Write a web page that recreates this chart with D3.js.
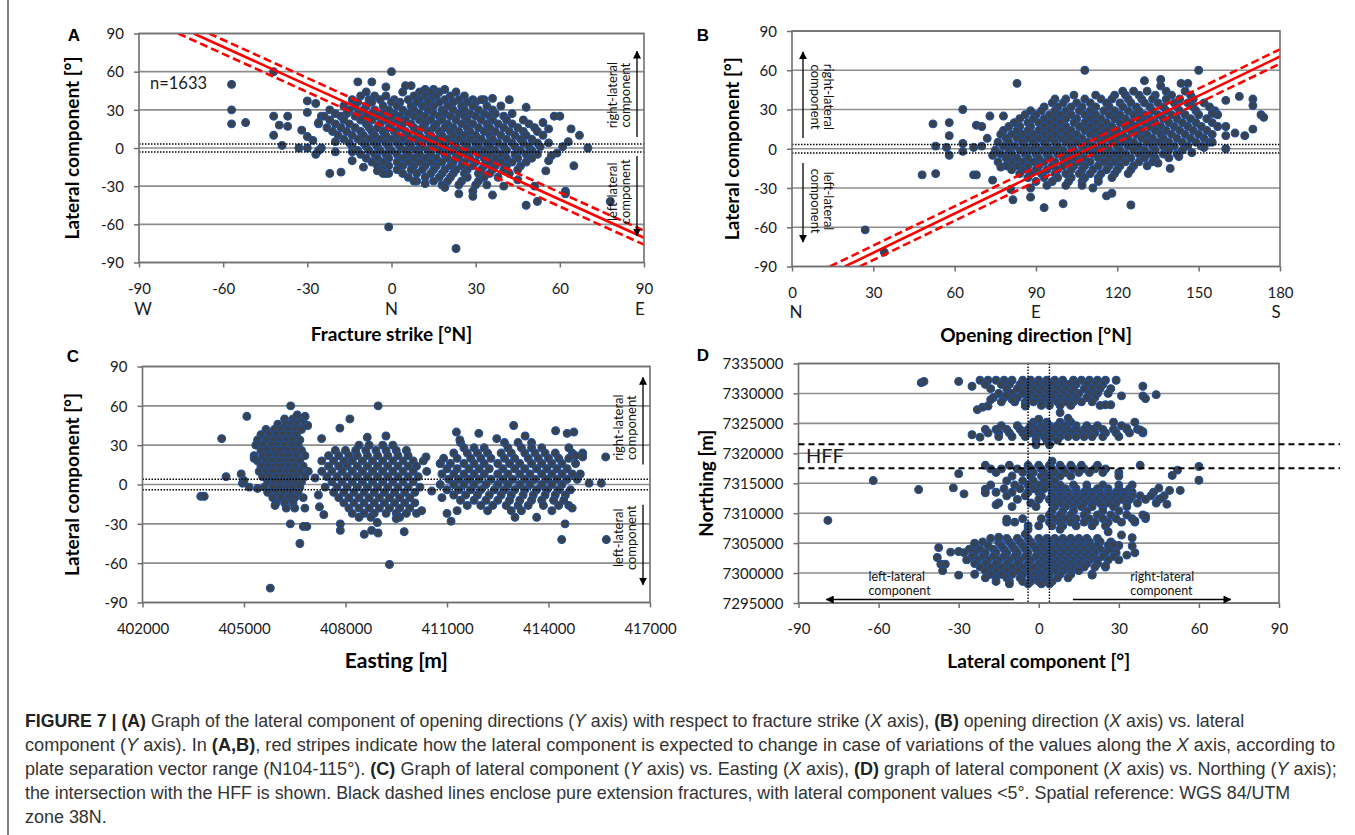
<!DOCTYPE html>
<html><head><meta charset="utf-8">
<script src="https://cdn.jsdelivr.net/npm/d3@7"></script>
<style>body{margin:0;background:#fff}svg{display:block}</style>
</head><body>
<svg id="fig" width="1355" height="835"></svg>
<script>
// ---------------- DATA ----------------
const latTicks = [-90, -60, -30, 0, 30, 60, 90];
const strikeTicks = [-90, -60, -30, 0, 30, 60, 90];
const strikeDirs = [[-90, "W"], [0, "N"], [90, "E"]];
const openTicks = [0, 30, 60, 90, 120, 150, 180];
const openDirs = [[0, "N"], [90, "E"], [180, "S"]];
const eastTicks = [402000, 405000, 408000, 411000, 414000, 417000];
const northTicks = [7295000, 7300000, 7305000, 7310000, 7315000, 7320000, 7325000, 7330000, 7335000];
const nCount = "n=1633";

// red stripes (plate separation N104-115°, centre 109.5°)
const redA = { solid: [[-70.5, 90], [90, -70.5]], dashed: [[[-76, 90], [90, -76]], [[-65, 90], [90, -65]]] };
const redB = { solid: [[19.5, -90], [180, 70.5]], dashed: [[[14, -90], [180, 76]], [[25, -90], [180, 65]]] };
const pureExtAB = 3.2, pureExtCD = 4;
const hffBounds = [7321500, 7317500];

// Panel A: rows [lateral, [strikes]] + outliers [strike, lateral]
const rowsA = [
 [46, [12, 15, 19]],
 [44, [-9, 4, 10, 14, 17, 23]],
 [41, [-11, -6, -2, 8, 12, 16, 21, 26]],
 [38, [-14, -8, -4, 1, 6, 10, 14, 19, 24, 29, 33]],
 [36, [-12, -7, 0, 3, 9, 13, 17, 22, 27, 30]],
 [33, [-17, -13, -9, -3, 2, 7, 11, 15, 20, 25, 29, 34, 39]],
 [30, [-22, -15, -10, -6, -1, 4, 8, 13, 18, 22, 26, 31, 36]],
 [27, [-20, -16, -12, -7, -3, 1, 6, 10, 15, 19, 24, 28, 33, 37, 43]],
 [25, [-25, -18, -13, -9, -5, 0, 3, 8, 12, 17, 21, 26, 30, 35, 40]],
 [22, [-22, -17, -11, -7, -2, 2, 5, 10, 14, 18, 23, 27, 32, 36, 41, 47]],
 [19, [-26, -20, -15, -9, -4, 0, 4, 7, 12, 16, 20, 25, 29, 34, 38, 43, 49]],
 [16, [-23, -18, -13, -8, -5, -1, 3, 8, 11, 15, 19, 22, 27, 31, 35, 40, 45, 51]],
 [13, [-21, -16, -11, -7, -3, 1, 5, 9, 13, 17, 21, 24, 28, 33, 37, 42, 47, 52]],
 [10, [-19, -14, -10, -6, -2, 2, 6, 10, 14, 18, 22, 26, 30, 35, 39, 44, 48, 54]],
 [7, [-17, -12, -8, -4, 0, 4, 8, 12, 16, 20, 24, 28, 32, 36, 41, 46, 50]],
 [4, [-15, -10, -6, -2, 2, 6, 10, 14, 18, 22, 26, 30, 34, 38, 43, 47, 52, 56]],
 [1, [-14, -9, -5, -1, 3, 7, 11, 15, 19, 23, 27, 31, 35, 40, 44, 49, 53]],
 [-2, [-12, -8, -4, 0, 5, 9, 13, 17, 21, 25, 29, 33, 37, 41, 46, 50]],
 [-5, [-11, -6, -2, 2, 6, 10, 14, 19, 23, 27, 31, 35, 39, 44, 48, 52]],
 [-8, [-9, -5, -1, 4, 8, 12, 16, 20, 24, 28, 33, 37, 41, 45, 50]],
 [-11, [-7, -3, 2, 6, 10, 14, 18, 22, 26, 30, 35, 39, 43, 48]],
 [-14, [-5, -1, 4, 8, 12, 16, 21, 25, 29, 33, 37, 41, 46]],
 [-17, [-3, 2, 7, 11, 15, 19, 23, 27, 32, 36, 40, 45]],
 [-20, [-2, 4, 9, 14, 18, 22, 26, 31, 35, 42]],
 [-23, [6, 12, 17, 21, 27, 33, 38]],
 [-26, [9, 15, 20, 25, 31]],
 [-29, [18, 24, 30, 34]]
];
const outA = [[-57,50],[-57,30],[-57,19],[-52,20],[-42,60],[-42,25],[-42,10],[-40,18],[-39,2],[-37,25],[-37,17],[-33,0],[-32,14],[-30,37],[-30,28],[-30,9],[-30,0],[-27,35],[-27,-5],[-25,0],[-24,25],[-22,-20],[-18,-19],[-12,52],[-7,52],[-2,48],[0,60],[5,49],[7,49],[-1,-62],[23,-79],[70,0],[67,10],[64,15],[60,25],[58,25],[65,-14],[62,-34],[62,-36],[48,-45],[52,-42],[48,32],[42,38],[36,39],[32,38],[59,-4],[61,1],[55,-18],[56,-10],[78,-42],[24,-36],[29,-34],[29,-38],[36,-37],[19,-31],[8,-26],[-1,-20],[-3,-20],[-14,-3],[-20,5],[-20,-3],[-28,6],[-26,20],[-26,-2],[-14,-10],[-10,-15],[45,-25],[51,-30],[57,-6],[63,5],[54,20],[56,15],[-5,-18],[12,-28],[40,-30]];

// Panel B: rows [lateral, [opening dirs]] + outliers [opening, lateral]
const rowsB = [
 [44, [122, 126, 131, 138, 145]],
 [41, [104, 112, 119, 123, 128, 134, 140, 147]],
 [38, [97, 101, 108, 114, 118, 124, 129, 133, 138, 143, 148]],
 [35, [96, 100, 105, 110, 116, 121, 125, 130, 135, 141, 146, 152]],
 [32, [93, 98, 103, 107, 112, 117, 122, 127, 132, 137, 142, 148, 154]],
 [29, [88, 92, 97, 101, 106, 110, 115, 119, 124, 128, 133, 138, 143, 149, 156]],
 [26, [86, 90, 95, 99, 103, 108, 112, 117, 121, 126, 130, 135, 140, 145, 150, 157]],
 [23, [84, 89, 93, 97, 101, 105, 110, 114, 119, 123, 128, 132, 137, 142, 147, 153]],
 [20, [82, 87, 91, 95, 99, 104, 108, 112, 116, 121, 125, 130, 134, 139, 144, 149, 155]],
 [17, [80, 84, 88, 93, 97, 101, 106, 110, 114, 118, 123, 127, 132, 136, 141, 146, 151, 157]],
 [14, [78, 83, 87, 91, 95, 99, 103, 108, 112, 116, 120, 125, 129, 134, 138, 143, 148, 153]],
 [11, [77, 81, 85, 89, 93, 97, 101, 105, 110, 114, 118, 122, 127, 131, 136, 140, 145, 150, 155]],
 [8, [79, 83, 87, 91, 95, 99, 103, 107, 112, 116, 120, 124, 129, 133, 137, 142, 147, 152]],
 [5, [76, 80, 85, 89, 93, 97, 101, 105, 109, 114, 118, 122, 126, 131, 135, 139, 144, 149, 154]],
 [2, [78, 82, 86, 90, 94, 98, 103, 107, 111, 115, 120, 124, 128, 133, 137, 141, 146, 151]],
 [-1, [75, 80, 84, 88, 92, 96, 100, 104, 109, 113, 117, 121, 126, 130, 134, 139, 144]],
 [-4, [77, 81, 86, 90, 94, 98, 102, 106, 111, 115, 119, 123, 128, 132, 137, 142]],
 [-7, [79, 83, 87, 91, 95, 100, 104, 108, 113, 117, 121, 125, 130, 134, 139]],
 [-10, [76, 81, 85, 89, 93, 97, 102, 106, 110, 115, 119, 123, 128, 133]],
 [-13, [79, 83, 87, 91, 96, 100, 104, 108, 113, 117, 121, 126, 131]],
 [-16, [81, 85, 90, 94, 98, 103, 107, 111, 116, 120, 125]],
 [-19, [84, 88, 92, 97, 101, 106, 110, 114, 119, 124]],
 [-22, [87, 93, 98, 103, 108, 113, 118]],
 [-25, [90, 96, 102, 107, 113]],
 [-28, [94, 101, 107]]
];
const outB = [[83,50],[108,60],[150,60],[130,52],[136,53],[136,48],[143.5,50],[146,50],[63,30],[52,19],[58,20],[58,10],[53,2],[57,1],[58,-5],[48,-20],[53,-19],[73,25],[78,25],[68,18],[70,17],[63,4],[63,-2],[67,1],[70,2],[67,-20],[68,-20],[27,-62],[34,-79],[93,-45],[100,-42],[111,-30],[116,-36],[118,-34],[125,-43],[139.5,-15],[135,-11],[142.7,-6],[88,-37],[88,-30],[81.5,-39],[80.7,-31],[77,-14],[74,-24],[160,0],[160,10],[160,17],[160,37],[165,40],[170,38],[170,33],[170,15],[163.4,12],[167,10],[173,26],[174,24],[155,27],[152,1],[147.5,-3],[155,5],[72,8],[74,-5]];

// Panel C: rows [lateral, [eastings]] + outliers [easting, lateral]
const rowsC = [
 [50, [406200, 406450, 406650]],
 [46, [406000, 406250, 406400, 406550, 406800]],
 [42, [405650, 405900, 406100, 406300, 406500, 406700]],
 [38, [405500, 405750, 405950, 406150, 406350, 406550]],
 [34, [405400, 405650, 405850, 406050, 406250, 406450, 406650]],
 [30, [405350, 405550, 405800, 406000, 406200, 406400, 406600]],
 [26, [405500, 405700, 405900, 406100, 406300, 406500, 406700]],
 [22, [405300, 405550, 405750, 405950, 406150, 406350, 406550, 406800]],
 [18, [405400, 405650, 405850, 406050, 406250, 406450, 406650]],
 [14, [405500, 405700, 405900, 406100, 406300, 406500, 406750]],
 [10, [405450, 405650, 405850, 406050, 406250, 406450, 406650, 406900]],
 [6, [405550, 405750, 405950, 406150, 406350, 406550, 406800]],
 [2, [405700, 405900, 406100, 406300, 406500, 406700]],
 [-2, [405600, 405850, 406050, 406250, 406450, 406650]],
 [-6, [405700, 405950, 406150, 406350, 406600]],
 [-10, [405850, 406100, 406300, 406500, 406750]],
 [-14, [405950, 406200, 406450]],
 [-18, [406250, 406500, 406800]],
 [30, [408400, 408700, 409100, 409400]],
 [26, [407700, 408000, 408300, 408600, 408900, 409200, 409500, 409800]],
 [22, [407500, 407800, 408100, 408350, 408650, 408950, 409250, 409550, 409850]],
 [18, [407300, 407650, 407950, 408200, 408500, 408800, 409100, 409400, 409700, 410000, 410300]],
 [14, [407500, 407800, 408050, 408350, 408650, 408950, 409250, 409550, 409850, 410100]],
 [10, [407300, 407600, 407900, 408200, 408500, 408800, 409100, 409400, 409700, 410000]],
 [6, [407450, 407750, 408050, 408350, 408650, 408950, 409250, 409550, 409850, 410150]],
 [2, [407600, 407900, 408200, 408500, 408800, 409100, 409400, 409700, 410000]],
 [-2, [407400, 407750, 408050, 408350, 408650, 408950, 409250, 409550, 409850, 410200]],
 [-6, [407650, 407950, 408250, 408550, 408850, 409150, 409450, 409750, 410050]],
 [-10, [407800, 408100, 408400, 408700, 409000, 409300, 409600, 409900]],
 [-14, [407950, 408250, 408550, 408850, 409150, 409450, 409750, 410050]],
 [-18, [408100, 408400, 408700, 409000, 409300, 409600, 409900]],
 [-22, [408200, 408550, 408850, 409200, 409500, 409800, 410100]],
 [-25, [408400, 408750, 409600]],
 [32, [411400, 412700, 413100, 413500]],
 [28, [411500, 411800, 412100, 412800, 413200, 413500, 413800, 414600]],
 [24, [411200, 411600, 411900, 412200, 412600, 412900, 413300, 413600, 413900, 414200, 414700]],
 [20, [410900, 411300, 411700, 412000, 412300, 412700, 413000, 413400, 413700, 414000, 414300, 414600]],
 [16, [410800, 411100, 411500, 411800, 412100, 412500, 412850, 413150, 413500, 413800, 414100, 414400, 414800]],
 [12, [411000, 411300, 411650, 411950, 412250, 412650, 413000, 413300, 413650, 413950, 414250, 414550]],
 [8, [410850, 411200, 411500, 411800, 412100, 412500, 412800, 413150, 413450, 413800, 414100, 414400, 414700]],
 [4, [411050, 411350, 411650, 411950, 412300, 412650, 412950, 413300, 413600, 413950, 414250, 414550, 414850]],
 [0, [410800, 411200, 411500, 411800, 412150, 412500, 412800, 413150, 413450, 413800, 414100, 414400]],
 [-4, [411000, 411350, 411700, 412000, 412400, 412700, 413000, 413300, 413650, 413950, 414300, 414650]],
 [-8, [411200, 411550, 411900, 412250, 412600, 412900, 413250, 413550, 413900, 414200, 414500]],
 [-12, [411400, 411800, 412150, 412500, 412850, 413150, 413500, 413800, 414150, 414450]],
 [-16, [411600, 412000, 412350, 412750, 413100, 413400, 413850, 414300, 414600]],
 [-20, [411300, 412200, 412900, 413200, 414100]]
];
const outC = [[405084,52],[404340,35],[404470,6],[404917,8],[404956,1],[405000,3],[403722,-9],[403825,-9],[405778,-79],[406369,-30],[406651,-45],[406754,-32],[406857,-32],[405917,-16],[407294,35],[406883,45],[406806,52],[406575,53],[406380,60],[405150,-2],[405400,-3],[405300,20],[407834,43],[408130,50],[408965,60],[409196,37],[408644,36],[407847,-35],[407847,-30],[408554,-38],[408772,-35],[408965,-37],[408940,-29],[409300,-61],[409735,-36],[407359,-23],[407230,-17],[407200,-8],[407100,5],[410380,21],[410400,10],[410550,-5],[410250,-20],[409500,-26],[411278,40],[411380,34],[411940,39],[412470,35],[412970,45],[413310,37],[414210,41],[414550,39],[414750,40],[411120,-28],[413010,-25],[413650,-25],[414390,-42],[414490,-30],[415010,24],[415010,21],[415200,1],[415560,1],[415690,21],[415710,-42],[414940,8],[410800,16],[410850,-10],[411000,-22],[414700,-18],[414800,22]];

// Panel D: rows [northing, [laterals]] + outliers [lateral, northing]
const rowsD = [
 [7332200, [-22, -19, -16, -13, -10, -6, -3, 0, 3, 6, 9, 13, 16, 19, 22, 25, 29]],
 [7331500, [-20, -14, -11, -7, -4, -1, 2, 5, 8, 11, 14, 18, 21, 24]],
 [7330800, [-18, -12, -8, -5, -2, 1, 4, 7, 10, 13, 17, 20, 23, 27]],
 [7330000, [-15, -10, -6, -3, 0, 3, 6, 9, 12, 15, 19, 22, 26]],
 [7329300, [-17, -13, -8, -4, -1, 2, 5, 8, 11, 14, 18, 21]],
 [7328600, [-14, -9, -5, -2, 1, 4, 7, 10, 13, 16, 20]],
 [7328000, [-5, 1, 4, 8, 12, 23]],
 [7325200, [-2, 3, 8, 12, 28, 36]],
 [7324600, [-14, -8, -3, 1, 4, 7, 10, 14, 18, 22, 31]],
 [7324000, [-20, -16, -12, -7, -4, -1, 2, 5, 8, 11, 14, 17, 20, 24, 28, 33, 37]],
 [7323400, [-19, -15, -11, -6, -3, 0, 3, 6, 9, 12, 15, 18, 21, 25, 29, 34, 39]],
 [7322800, [-15, -10, -5, -1, 2, 5, 8, 11, 14, 17, 20, 24, 30]],
 [7322200, [-1, 3, 7]],
 [7318700, [5]],
 [7318000, [-20, -11, -4, 0, 4, 8, 12, 16, 22, 38]],
 [7317400, [-18, -14, -8, -3, 1, 5, 9, 13, 17, 21, 25]],
 [7316800, [-16, -6, -2, 2, 6, 10, 15, 19, 24, 30]],
 [7316200, [-10, -3, 1, 4, 8, 12, 30]],
 [7315400, [-12, -6, -2, 2, 6]],
 [7314700, [-18, -9, -4, 0, 4, 8, 13, 18, 24, 30, 35]],
 [7314100, [-13, -7, -2, 2, 6, 10, 14, 18, 22, 26, 30, 34]],
 [7313500, [-16, -10, -4, 0, 5, 8, 11, 14, 17, 20, 23, 26, 29, 32, 35, 43]],
 [7312900, [-12, -5, 1, 5, 8, 11, 14, 17, 20, 23, 26, 29, 32, 35, 38, 42, 47]],
 [7312300, [-8, 0, 4, 7, 10, 13, 16, 19, 22, 25, 28, 31, 34, 40, 45]],
 [7311700, [-15, -3, 5, 8, 11, 14, 17, 20, 23, 26, 29, 33, 37, 44]],
 [7311100, [-10, -1, 6, 10, 13, 16, 20, 24, 28, 33]],
 [7310400, [5, 9, 13, 18, 24, 30]],
 [7309700, [4, 8, 12, 17, 22, 27, 33, 39]],
 [7309100, [-6, 1, 6, 10, 14, 19, 24, 29, 35, 40]],
 [7308500, [-12, -9, 4, 8, 12, 17, 21, 26, 31, 36]],
 [7307900, [-4, 0, 5, 9, 14, 20, 25]],
 [7307300, [-4, 8]],
 [7305800, [-18, -12, -8, -4, 0, 3, 6, 9, 12, 15, 18, 22]],
 [7305200, [-21, -15, -11, -7, -3, 1, 4, 7, 10, 13, 16, 19, 23, 27]],
 [7304600, [-24, -19, -14, -10, -6, -2, 1, 4, 7, 10, 13, 16, 19, 22, 26, 30]],
 [7304000, [-26, -22, -17, -13, -9, -5, -1, 2, 5, 8, 11, 14, 17, 20, 23, 27]],
 [7303400, [-28, -24, -20, -16, -12, -8, -4, 0, 3, 6, 9, 12, 15, 18, 21, 25, 29]],
 [7302800, [-25, -21, -17, -13, -9, -5, -1, 2, 5, 8, 11, 14, 17, 20, 24, 28]],
 [7302200, [-27, -23, -19, -15, -11, -7, -3, 1, 4, 7, 10, 13, 16, 19, 22, 26]],
 [7301600, [-24, -20, -16, -12, -8, -4, 0, 3, 6, 9, 12, 15, 18, 22]],
 [7301000, [-22, -18, -14, -10, -6, -2, 1, 4, 7, 10, 13, 17, 21, 25]],
 [7300400, [-20, -16, -12, -8, -4, 0, 3, 6, 9, 12, 15]],
 [7299800, [-24, -18, -14, -10, -6, -2, 1, 4, 8, 12, 20]],
 [7299200, [-20, -16, -12, -7, -3, 0, 3, 7, 11]],
 [7298600, [-16, -11, -6, -3, 0, 2, 5]],
 [7298200, [-11, -4, 1, 4]]
];
const outD = [[-44,7331800],[-43,7332000],[-30,7332000],[-25,7331200],[-23,7327300],[-21,7327700],[-19,7327900],[-18,7328950],[8,7326800],[-5,7327900],[39,7331200],[39,7329600],[44,7329800],[40,7329150],[31,7329600],[25,7328100],[27,7328100],[-12,7329700],[-10,7329000],
 [-25,7323100],[-1,7321430],[4,7321430],[11,7325850],[0,7325700],[39,7323600],[38,7323900],[33,7324200],[-22,7322700],
 [52,7317200],[60,7317800],[50,7316300],[60,7315500],[-30,7316600],[-62,7315450],[-45,7313950],[-32,7314225],[-28,7313230],[-79,7308800],[40,7309500],[36,7308700],[45,7314200],[49,7313800],[53,7313800],[46,7312500],[48,7311500],[-20,7314000],[-20,7313400],[-16,7311400],[-12,7309000],[26,7306900],[-5,7306500],
 [-37.5,7304250],[-38,7302600],[-36.7,7301500],[-35,7301500],[-36,7300400],[-30,7299650],[-30,7303600],[-33,7303500],[31,7306350],[35,7305900],[35,7304500],[36,7303400],[30,7302200],[25,7301200],[20,7299650],[-15,7306000],[-24,7305000],[28,7304800],[33,7303000]];

const captionLines = [
 "**FIGURE 7 |** **(A)** Graph of the lateral component of opening directions (*Y* axis) with respect to fracture strike (*X* axis), **(B)** opening direction (*X* axis) vs. lateral",
 "component (*Y* axis). In **(A,B)**, red stripes indicate how the lateral component is expected to change in case of variations of the values along the *X* axis, according to",
 "plate separation vector range (N104-115°). **(C)** Graph of lateral component (*Y* axis) vs. Easting (*X* axis), **(D)** graph of lateral component (*X* axis) vs. Northing (*Y* axis);",
 "the intersection with the HFF is shown. Black dashed lines enclose pure extension fractures, with lateral component values <5°. Spatial reference: WGS 84/UTM",
 "zone 38N."
];
const captionWidths = [1220, 1311, 1313, 1266, null];

// ---------------- DRAWING ----------------
const svg = d3.select("#fig");
const FONT = "Lato, 'Open Sans', sans-serif";
const GRID = "#8e8e8e", BORDER = "#6f6f6f";
const DOT_FILL = "#39434f", DOT_STROKE = "#1f4f9e";
const fmt = d => String(d);

const defs = svg.append("defs");
defs.append("marker").attr("id", "arr").attr("viewBox", "0 0 10 10").attr("refX", 9).attr("refY", 5)
  .attr("markerWidth", 8).attr("markerHeight", 8).attr("markerUnits", "userSpaceOnUse").attr("orient", "auto")
  .append("path").attr("d", "M0,0 L10,5 L0,10 z").attr("fill", "#000");

svg.append("line").attr("x1", 8).attr("x2", 8).attr("y1", 0).attr("y2", 835).attr("stroke", "#555").attr("stroke-width", 1.5);

const expand = rows => rows.flatMap(([v, list]) => list.map(u => [u, v]));

function panel(cfg) {
  const x = d3.scaleLinear().domain(cfg.xDomain).range([cfg.left, cfg.right]);
  const y = d3.scaleLinear().domain(cfg.yDomain).range([cfg.bottom, cfg.top]);
  const g = svg.append("g");
  const clipId = "clip" + cfg.id;
  defs.append("clipPath").attr("id", clipId).append("rect")
    .attr("x", cfg.left).attr("y", cfg.top).attr("width", cfg.right - cfg.left).attr("height", cfg.bottom - cfg.top);

  g.append("g").selectAll("line").data(cfg.yTicks).join("line")
    .attr("x1", cfg.left).attr("x2", cfg.right).attr("y1", d => y(d)).attr("y2", d => y(d))
    .attr("stroke", GRID).attr("stroke-width", 1.6);

  const ax = g.append("g").attr("transform", `translate(0,${cfg.bottom})`)
    .call(d3.axisBottom(x).tickValues(cfg.xTicks).tickSize(5).tickFormat(fmt));
  ax.select(".domain").remove();
  ax.selectAll("line").attr("stroke", BORDER).attr("stroke-width", 1.5);
  ax.selectAll("text").attr("y", 31).attr("dy", null).attr("font-family", FONT).attr("font-size", 15).attr("fill", "#1a1a1a");
  const ay = g.append("g").attr("transform", `translate(${cfg.left},0)`)
    .call(d3.axisLeft(y).tickValues(cfg.yTicks).tickSize(5).tickPadding(10).tickFormat(fmt));
  ay.select(".domain").remove();
  ay.selectAll("line").attr("stroke", BORDER).attr("stroke-width", 1.5);
  ay.selectAll("text").attr("font-family", FONT).attr("font-size", 15).attr("fill", "#1a1a1a").attr("dy", "0.35em");

  g.append("g").selectAll("circle").data(cfg.points).join("circle")
    .attr("cx", d => x(d[0])).attr("cy", d => y(d[1])).attr("r", 3.9)
    .attr("fill", DOT_FILL).attr("stroke", DOT_STROKE).attr("stroke-width", 1.1);

  const ov = g.append("g").attr("clip-path", `url(#${clipId})`);
  if (cfg.red) {
    const line = d3.line().x(d => x(d[0])).y(d => y(d[1]));
    cfg.red.dashed.forEach(seg => ov.append("path").attr("d", line(seg)).attr("fill", "none")
      .attr("stroke", "#ff0000").attr("stroke-width", 2.6).attr("stroke-dasharray", "8,4"));
    ov.append("path").attr("d", line(cfg.red.solid)).attr("fill", "none").attr("stroke", "#ff0000").attr("stroke-width", 2.6);
  }
  if (cfg.hDots) cfg.hDots.forEach(v => g.append("line").attr("x1", cfg.left).attr("x2", cfg.right)
      .attr("y1", y(v)).attr("y2", y(v)).attr("stroke", "#000").attr("stroke-width", 1.4).attr("stroke-dasharray", "1.5,1.5"));
  if (cfg.vDots) cfg.vDots.forEach(v => g.append("line").attr("y1", cfg.top).attr("y2", cfg.bottom)
      .attr("x1", x(v)).attr("x2", x(v)).attr("stroke", "#000").attr("stroke-width", 1.4).attr("stroke-dasharray", "1.5,1.5"));

  g.append("rect").attr("x", cfg.left).attr("y", cfg.top).attr("width", cfg.right - cfg.left).attr("height", cfg.bottom - cfg.top)
    .attr("fill", "none").attr("stroke", BORDER).attr("stroke-width", 1.6);

  if (cfg.dirs) g.selectAll(".dir").data(cfg.dirs).join("text")
    .attr("x", (d, i) => x(d[0]) + (i === 0 ? 4 : i === cfg.dirs.length - 1 ? -4 : 0)).attr("y", cfg.dirY)
    .attr("text-anchor", "middle").attr("font-family", FONT).attr("font-size", 17).attr("fill", "#1a1a1a").text(d => d[1]);

  g.append("text").attr("x", (cfg.left + cfg.right) / 2).attr("y", cfg.xTitleY).attr("text-anchor", "middle")
    .attr("font-family", FONT).attr("font-weight", 700).attr("font-size", cfg.xTitleSize || 19).text(cfg.xTitle);
  g.append("text").attr("transform", `translate(${cfg.yTitleX},${(cfg.top + cfg.bottom) / 2}) rotate(-90)`)
    .attr("text-anchor", "middle").attr("font-family", FONT).attr("font-weight", 700).attr("font-size", 19).text(cfg.yTitle);
  g.append("text").attr("x", cfg.letter[1]).attr("y", cfg.letter[2]).attr("text-anchor", "middle")
    .attr("font-family", "'Liberation Sans', Arial, sans-serif").attr("font-weight", 700).attr("font-size", 17).text(cfg.letter[0]);
  return { g, x, y };
}

function vText(g, cx, cy, rot, lines) {
  const t = g.append("text").attr("transform", `translate(${cx},${cy}) rotate(${rot})`)
    .attr("text-anchor", "middle").attr("font-family", FONT).attr("font-size", 13).attr("fill", "#111");
  lines.forEach((l, i) => t.append("tspan").attr("x", 0).attr("y", (i - (lines.length - 1) / 2) * 13 + 4.5).text(l));
}
function arrow(g, x1, y1, x2, y2) {
  g.append("line").attr("x1", x1).attr("y1", y1).attr("x2", x2).attr("y2", y2)
    .attr("stroke", "#000").attr("stroke-width", 1.3).attr("marker-end", "url(#arr)");
}

// Panel A
const pA = panel({ id: "A", left: 139, right: 644, top: 33.5, bottom: 262.5,
  xDomain: [-90, 90], yDomain: [-90, 90], xTicks: strikeTicks, yTicks: latTicks,
  points: expand(rowsA).concat(outA), red: redA, hDots: [pureExtAB, -pureExtAB], dirs: strikeDirs, dirY: 314.5,
  xTitle: "Fracture strike [°N]", xTitleY: 340.5, yTitle: "Lateral component [°]", yTitleX: 79, letter: ["A", 74, 41] });
pA.g.append("text").attr("x", 150).attr("y", 89).attr("font-family", FONT).attr("font-size", 16.5).attr("fill", "#1a1a1a").text(nCount);
vText(pA.g, 644 - 25.5, pA.y(41.5), -90, ["right-lateral", "component"]);
vText(pA.g, 644 - 25.5, pA.y(-34.4), -90, ["left-lateral", "component"]);
arrow(pA.g, 637, pA.y(8.6), 637, pA.y(76));
arrow(pA.g, 637, pA.y(-6.3), 637, pA.y(-69));

// Panel B
const pB = panel({ id: "B", left: 792, right: 1280, top: 31, bottom: 266.5,
  xDomain: [0, 180], yDomain: [-90, 90], xTicks: openTicks, yTicks: latTicks,
  points: expand(rowsB).concat(outB), red: redB, hDots: [pureExtAB, -pureExtAB], dirs: openDirs, dirY: 317.5,
  xTitle: "Opening direction [°N]", xTitleY: 341.5, yTitle: "Lateral component [°]", yTitleX: 739, letter: ["B", 703, 41] });
vText(pB.g, 792 + 29.5, pB.y(39.6), 90, ["right-lateral", "component"]);
vText(pB.g, 792 + 29.5, pB.y(-40), 90, ["left-lateral", "component"]);
arrow(pB.g, 803, pB.y(8.2), 803, pB.y(74));
arrow(pB.g, 803, pB.y(-10.9), 803, pB.y(-71.3));

// Panel C
const pC = panel({ id: "C", left: 142.5, right: 650, top: 366.5, bottom: 602.5,
  xDomain: [402000, 417000], yDomain: [-90, 90], xTicks: eastTicks, yTicks: latTicks,
  points: expand(rowsC).concat(outC), hDots: [pureExtCD, -pureExtCD],
  xTitle: "Easting [m]", xTitleY: 668, xTitleSize: 21, yTitle: "Lateral component [°]", yTitleX: 79, letter: ["C", 73, 362] });
vText(pC.g, 650 - 25.5, pC.y(43.4), -90, ["right-lateral", "component"]);
vText(pC.g, 650 - 25.5, pC.y(-40.6), -90, ["left-lateral", "component"]);
arrow(pC.g, 643, pC.y(15.2), 643, pC.y(81.6));
arrow(pC.g, 643, pC.y(-15.4), 643, pC.y(-76.5));

// Panel D (rows are [northing, [laterals]] -> points [lateral, northing])
const pD = panel({ id: "D", left: 798.5, right: 1279, top: 363.5, bottom: 603,
  xDomain: [-90, 90], yDomain: [7295000, 7335000], xTicks: latTicks, yTicks: northTicks,
  points: rowsD.flatMap(([n, list]) => list.map(l => [l, n])).concat(outD), vDots: [pureExtCD, -pureExtCD],
  xTitle: "Lateral component [°]", xTitleY: 668, yTitle: "Northing [m]", yTitleX: 713, letter: ["D", 703, 361] });
hffBounds.forEach(v => pD.g.append("line").attr("x1", 798.5).attr("x2", 1340).attr("y1", pD.y(v)).attr("y2", pD.y(v))
  .attr("stroke", "#000").attr("stroke-width", 2).attr("stroke-dasharray", "6,4"));
pD.g.append("text").attr("x", 806).attr("y", pD.y(7319500) + 7).attr("font-family", FONT).attr("font-size", 20).attr("fill", "#1a1a1a").text("HFF");
function dLab(x0, lines) {
  const t = pD.g.append("text").attr("font-family", FONT).attr("font-size", 12.5).attr("fill", "#111");
  lines.forEach((l, i) => t.append("tspan").attr("x", x0).attr("y", 580.5 + i * 14.5).text(l));
}
dLab(pD.x(-63.8), ["left-lateral", "component"]);
dLab(pD.x(34.3), ["right-lateral", "component"]);
arrow(pD.g, pD.x(-9.3), 599.5, pD.x(-79.5), 599.5);
arrow(pD.g, pD.x(12.8), 599.5, pD.x(71.9), 599.5);

// Caption
const capBase = [727, 751, 775, 799, 823];
const capSizes = [];
captionLines.forEach((ln, i) => {
  const t = svg.append("text").attr("x", 25).attr("y", capBase[i])
    .attr("font-family", "'Liberation Sans', Arial, sans-serif").attr("font-size", 15).attr("fill", "#333");
  ln.split(/(\*\*[^*]+\*\*|\*[^*]+\*)/).filter(s => s.length).forEach(s => {
    const sp = t.append("tspan");
    if (s.startsWith("**")) sp.attr("font-weight", 700).attr("fill", "#222").text(s.slice(2, -2));
    else if (s.startsWith("*")) sp.attr("font-style", "italic").text(s.slice(1, -1));
    else sp.text(s);
  });
  if (captionWidths[i]) {
    const w = t.node().getComputedTextLength();
    const fs = 15 * captionWidths[i] / w;
    capSizes.push(fs);
    t.attr("font-size", fs);
  } else {
    t.attr("font-size", d3.mean(capSizes));
  }
});
</script>
</body></html>
